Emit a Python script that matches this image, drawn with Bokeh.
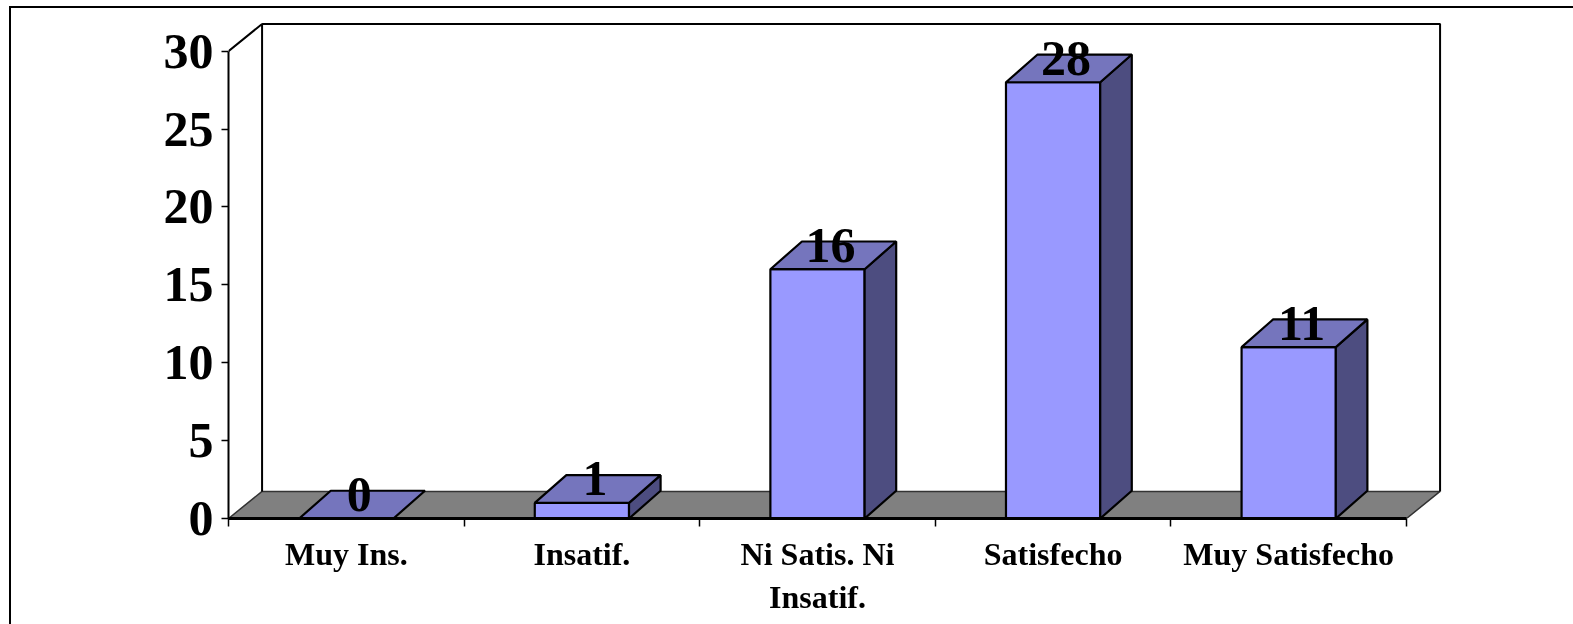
from bokeh.plotting import figure
from bokeh.embed import file_html
from bokeh.resources import INLINE
from bokeh.models import Range1d, FixedTicker, LinearAxis, InlineStyleSheet
from bokeh.core.properties import value

categories = ["Muy Ins.", "Insatif.", "Ni Satis. Ni\nInsatif.", "Satisfecho", "Muy Satisfecho"]
values = [0, 1, 16, 28, 11]
y_ticks = [0, 5, 10, 15, 20, 25, 30]

FRONT = "#9999FF"; TOP = "#7575BD"; SIDE = "#4D4D80"; FLOOR = "#808080"
FONT = "Liberation Serif"
BAR_W = 0.40
BAR_DX, BAR_DY = 0.134, 1.78     # bar depth in data units
WALL_DX, WALL_DY = 0.1425, 1.74  # wall depth in data units

W, H = 1573, 624
LEFT, BASE, TOPPX, RIGHTPX = 228, 518, 18, 1452
UX, UY = 235.6, 77.9 / 5

p = figure(width=W, height=H, output_backend="svg", toolbar_location=None,
           x_range=Range1d(0, (RIGHTPX - LEFT) / UX),
           y_range=Range1d(0, (BASE - TOPPX) / UY),
           x_axis_location=None, y_axis_location=None,
           min_border_left=LEFT, min_border_right=W - RIGHTPX,
           min_border_top=TOPPX, min_border_bottom=H - BASE)
p.styles = {"position": "fixed", "left": "0", "top": "0"}
# outer frame of the chart area: only its left and top sides fall inside the picture
p.stylesheets = [InlineStyleSheet(css=""":host::after {
  content: ""; position: absolute; left: 9px; top: 6px; right: 0; bottom: 0;
  border-left: 2px solid black; border-top: 2px solid black;
  z-index: 10; pointer-events: none; box-sizing: border-box;
}""")]
p.outline_line_color = None
p.xgrid.visible = False
p.ygrid.visible = False
p.background_fill_color = "white"
p.border_fill_color = "white"

n = len(categories)
ymax = max(y_ticks)

# wall and floor
p.patch([0, WALL_DX, n + WALL_DX, n], [0, WALL_DY, WALL_DY, 0],
        fill_color=FLOOR, line_color="#333333", line_width=1.5)
p.line([0, WALL_DX, WALL_DX], [ymax, ymax + WALL_DY, WALL_DY], line_color="black", line_width=2)
p.line([WALL_DX, n + WALL_DX, n + WALL_DX], [ymax + WALL_DY, ymax + WALL_DY, WALL_DY],
       line_color="black", line_width=2)

# bars
for i, v in enumerate(values):
    x0 = i + 0.5 - BAR_W / 2
    x1 = i + 0.5 + BAR_W / 2
    if v > 0:
        p.patch([x0, x1, x1, x0], [0, 0, v, v], fill_color=FRONT, line_color="black", line_width=2.2)
        p.patch([x1, x1 + BAR_DX, x1 + BAR_DX, x1], [0, BAR_DY, v + BAR_DY, v],
                fill_color=SIDE, line_color="black", line_width=2.2)
    p.patch([x0, x1, x1 + BAR_DX, x0 + BAR_DX], [v, v, v + BAR_DY, v + BAR_DY],
            fill_color=TOP, line_color="black", line_width=2.2)

p.text([i + 0.5 for i in range(n)], values, text=[str(v) for v in values],
       text_font=value(FONT), text_font_style="bold", text_font_size="50px",
       text_align="center", text_baseline="middle", text_color="black",
       x_offset=13, y_offset=-24)

# axes
yaxis = LinearAxis(ticker=FixedTicker(ticks=y_ticks), bounds=(0, ymax))
yaxis.major_tick_in = 0
yaxis.major_tick_out = 7
yaxis.minor_tick_line_color = None
yaxis.axis_line_width = 2
yaxis.major_tick_line_width = 1.5
yaxis.major_label_text_font = FONT
yaxis.major_label_text_font_style = "bold"
yaxis.major_label_text_font_size = "50px"
yaxis.major_label_text_color = "black"
yaxis.major_label_standoff = 8
p.add_layout(yaxis, "left")

centers = [i + 0.5 for i in range(n)]
xaxis = LinearAxis(ticker=FixedTicker(ticks=centers, minor_ticks=list(range(n + 1))),
                   bounds=(0, n))
xaxis.major_label_overrides = {c: t for c, t in zip(centers, categories)}
xaxis.major_tick_in = 0
xaxis.major_tick_out = 0
xaxis.major_tick_line_color = None
xaxis.minor_tick_in = 0
xaxis.minor_tick_out = 8
xaxis.minor_tick_line_width = 1.5
xaxis.minor_tick_line_color = "black"
xaxis.axis_line_width = 3
xaxis.major_label_text_font = FONT
xaxis.major_label_text_font_style = "bold"
xaxis.major_label_text_font_size = "32px"
xaxis.major_label_text_color = "black"
xaxis.major_label_standoff = 9
p.add_layout(xaxis, "below")

open("out.html", "w").write(file_html(p, INLINE))
